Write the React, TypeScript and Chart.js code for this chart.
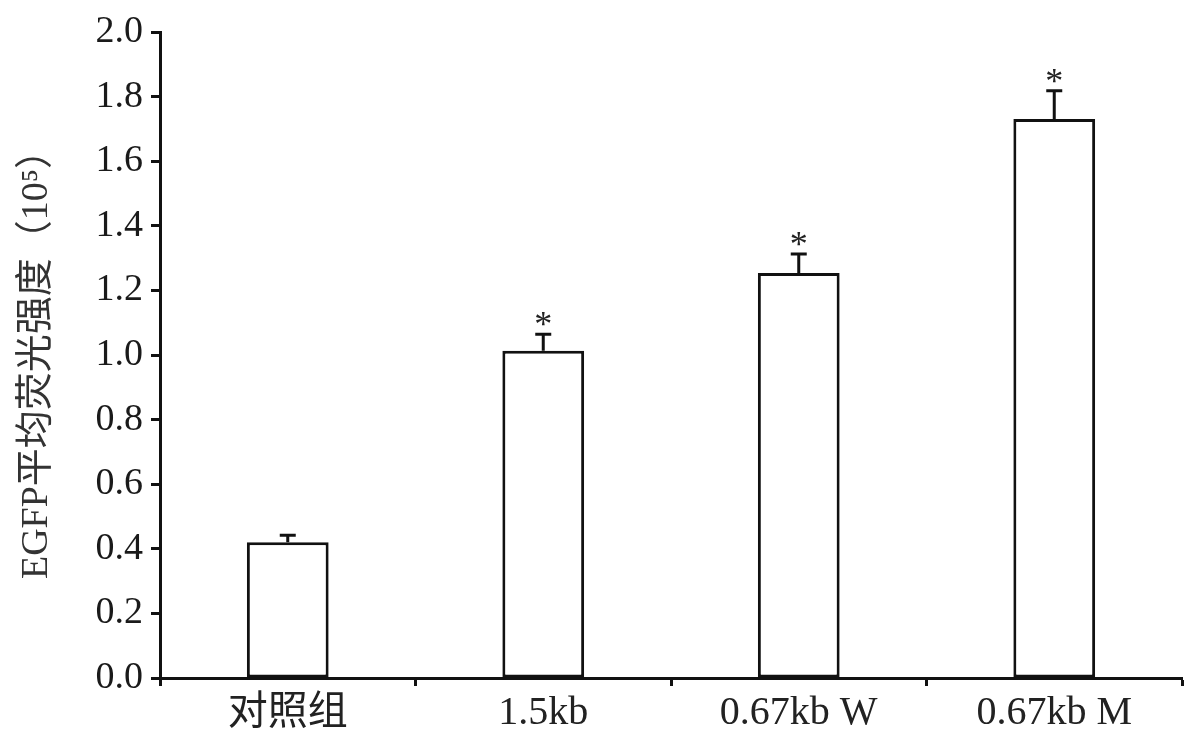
import React, { useEffect, useRef } from "react";
import { Chart, registerables } from "chart.js";

Chart.register(...registerables);

const categories = ["对照组", "1.5kb", "0.67kb W", "0.67kb M"];
const means = [0.42, 1.013, 1.254, 1.731];
const errors = [0.022, 0.051, 0.059, 0.087];
const significance = ["", "*", "*", "*"];
const yTitle = "EGFP平均荧光强度（10⁵）";

const SERIF = "'Liberation Serif', 'Times New Roman', 'Noto Sans CJK SC', serif";

const errorBarPlugin = {
  id: "errorBars",
  afterDatasetsDraw(chart: any) {
    const ctx = chart.ctx;
    const meta = chart.getDatasetMeta(0);
    const y = chart.scales.y;
    ctx.save();
    ctx.strokeStyle = "#111";
    ctx.lineWidth = 3;
    meta.data.forEach((bar: any, i: number) => {
      const x = bar.x;
      const yBase = y.getPixelForValue(means[i]);
      const yTop = y.getPixelForValue(means[i] + errors[i]);
      ctx.beginPath();
      ctx.moveTo(x, yBase);
      ctx.lineTo(x, yTop);
      ctx.moveTo(x - 8, yTop);
      ctx.lineTo(x + 8, yTop);
      ctx.stroke();
      if (significance[i]) {
        ctx.fillStyle = "#222";
        ctx.font = `36px ${SERIF}`;
        ctx.textAlign = "center";
        ctx.textBaseline = "alphabetic";
        ctx.fillText(significance[i], x, yTop + 2);
      }
    });
    ctx.restore();
  },
};

export default function App() {
  const ref = useRef<HTMLCanvasElement>(null);
  useEffect(() => {
    if (!ref.current) return;
    const chart = new Chart(ref.current, {
      type: "bar",
      data: {
        labels: categories,
        datasets: [
          {
            data: means,
            backgroundColor: "#ffffff",
            borderColor: "#111",
            borderWidth: 3,
            borderSkipped: false,
            barPercentage: 0.32,
            categoryPercentage: 1,
          },
        ],
      },
      options: {
        responsive: false,
        animation: false,
        layout: { padding: { top: 32, right: 18, left: 0, bottom: 0 } },
        plugins: { legend: { display: false }, tooltip: { enabled: false } },
        scales: {
          x: {
            offset: true,
            grid: {
              offset: true,
              drawOnChartArea: false,
              drawTicks: true,
              tickLength: 8,
              tickColor: "#111",
              tickWidth: 3,
            },
            border: { display: true, color: "#111", width: 3 },
            ticks: {
              color: "#222",
              font: { family: SERIF, size: 40 },
              padding: 3,
            },
            afterFit(scale: any) {
              scale.height = 64;
            },
          },
          y: {
            min: 0,
            max: 2.0,
            grid: {
              drawOnChartArea: false,
              drawTicks: true,
              tickLength: 9,
              tickColor: "#111",
              tickWidth: 3,
            },
            border: { display: true, color: "#111", width: 3 },
            ticks: {
              stepSize: 0.2,
              color: "#1a1a1a",
              font: { family: SERIF, size: 38 },
              padding: 8,
              callback: (v: any) => Number(v).toFixed(1),
            },
            title: {
              display: true,
              text: yTitle,
              color: "#333",
              font: { family: SERIF, size: 38 },
              padding: { top: 14, bottom: 0 },
            },
            afterFit(scale: any) {
              scale.width = 160;
            },
          },
        },
      },
      plugins: [errorBarPlugin],
    });
    return () => chart.destroy();
  }, []);
  return (
    <div style={{ position: "absolute", left: 0, top: 0, width: 1200, height: 742, background: "#fff" }}>
      <canvas ref={ref} width={1200} height={742} />
    </div>
  );
}
